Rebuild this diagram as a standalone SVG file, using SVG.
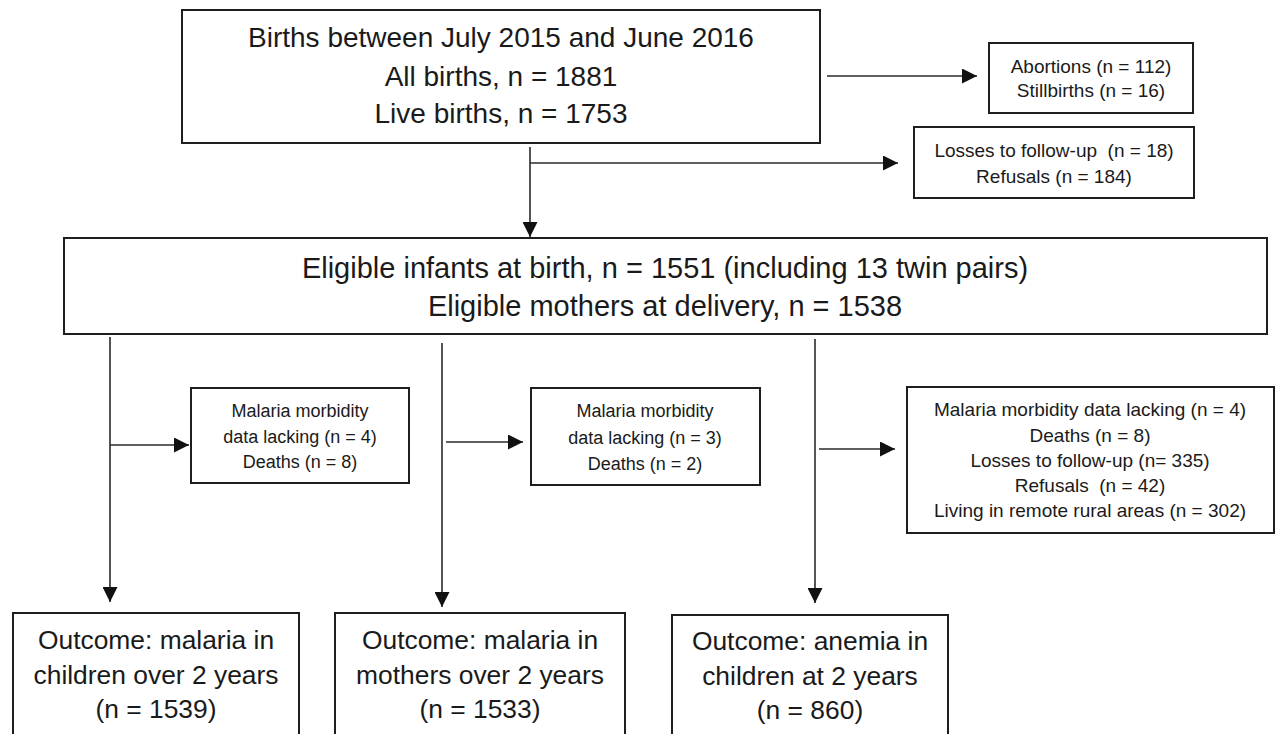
<svg xmlns="http://www.w3.org/2000/svg" width="1280" height="734" viewBox="0 0 1280 734">
  <style>
    .box { fill: #ffffff; stroke: #1e1e1e; stroke-width: 2; }
    .t { font-family: "Liberation Sans", Arial, sans-serif; fill: #1a1a1a; text-anchor: middle; }
    .big { font-size: 28px; }
    .mid { font-size: 29px; }
    .out { font-size: 26.4px; }
    .sm { font-size: 19px; }
    .xs { font-size: 18px; }
    .con { stroke: #2a2a2a; stroke-width: 1.6; fill: none; }
  </style>
  <defs>
    <marker id="arr" markerUnits="userSpaceOnUse" markerWidth="16" markerHeight="15" refX="15" refY="7.5" orient="auto">
      <path d="M0,0 L15,7.5 L0,15 Z" fill="#111"/>
    </marker>
  </defs>
  <rect width="1280" height="734" fill="#ffffff"/>

  <g id="connectors">
    <line class="con" x1="530" y1="147" x2="530" y2="237" marker-end="url(#arr)"/>
    <line class="con" x1="530" y1="163" x2="898" y2="163" marker-end="url(#arr)"/>
    <line class="con" x1="827" y1="76" x2="977" y2="76" marker-end="url(#arr)"/>
    <line class="con" x1="110" y1="337" x2="110" y2="602" marker-end="url(#arr)"/>
    <line class="con" x1="110" y1="445" x2="189" y2="445" marker-end="url(#arr)"/>
    <line class="con" x1="442" y1="343" x2="442" y2="607" marker-end="url(#arr)"/>
    <line class="con" x1="446" y1="442" x2="523" y2="442" marker-end="url(#arr)"/>
    <line class="con" x1="815" y1="339" x2="815" y2="603" marker-end="url(#arr)"/>
    <line class="con" x1="819" y1="449" x2="895" y2="449" marker-end="url(#arr)"/>
  </g>

  <g id="births">
    <rect class="box" x="182" y="10" width="638" height="133"/>
    <text class="t big" x="501" y="47">Births between July 2015 and June 2016</text>
    <text class="t big" x="501" y="86">All births, n = 1881</text>
    <text class="t big" x="501" y="123">Live births, n = 1753</text>
  </g>

  <g id="abortions">
    <rect class="box" x="989" y="43" width="204" height="70"/>
    <text class="t sm" x="1091" y="73">Abortions (n = 112)</text>
    <text class="t sm" x="1091" y="97">Stillbirths (n = 16)</text>
  </g>

  <g id="losses">
    <rect class="box" x="914" y="127" width="280" height="71"/>
    <text class="t sm" x="1054" y="157" xml:space="preserve">Losses to follow-up  (n = 18)</text>
    <text class="t sm" x="1054" y="183">Refusals (n = 184)</text>
  </g>

  <g id="eligible">
    <rect class="box" x="64" y="238" width="1203" height="96"/>
    <text class="t mid" x="665" y="278">Eligible infants at birth, n = 1551 (including 13 twin pairs)</text>
    <text class="t mid" x="665" y="316">Eligible mothers at delivery, n = 1538</text>
  </g>

  <g id="excl-children">
    <rect class="box" x="191" y="388" width="218" height="95"/>
    <text class="t xs" x="300" y="417">Malaria morbidity</text>
    <text class="t xs" x="300" y="443">data lacking (n = 4)</text>
    <text class="t xs" x="300" y="468">Deaths (n = 8)</text>
  </g>

  <g id="excl-mothers">
    <rect class="box" x="531" y="388" width="229" height="97"/>
    <text class="t xs" x="645" y="417">Malaria morbidity</text>
    <text class="t xs" x="645" y="444">data lacking (n = 3)</text>
    <text class="t xs" x="645" y="470">Deaths (n = 2)</text>
  </g>

  <g id="excl-anemia">
    <rect class="box" x="907" y="387" width="367" height="146"/>
    <text class="t sm" x="1090" y="416">Malaria morbidity data lacking (n = 4)</text>
    <text class="t sm" x="1090" y="442">Deaths (n = 8)</text>
    <text class="t sm" x="1090" y="467">Losses to follow-up (n= 335)</text>
    <text class="t sm" x="1090" y="492" xml:space="preserve">Refusals  (n = 42)</text>
    <text class="t sm" x="1090" y="517">Living in remote rural areas (n = 302)</text>
  </g>

  <g id="outcome-children">
    <rect class="box" x="13" y="613" width="286" height="150"/>
    <text class="t out" x="156" y="649">Outcome: malaria in</text>
    <text class="t out" x="156" y="684">children over 2 years</text>
    <text class="t out" x="156" y="718">(n = 1539)</text>
  </g>

  <g id="outcome-mothers">
    <rect class="box" x="335" y="613" width="290" height="150"/>
    <text class="t out" x="480" y="649">Outcome: malaria in</text>
    <text class="t out" x="480" y="684">mothers over 2 years</text>
    <text class="t out" x="480" y="718">(n = 1533)</text>
  </g>

  <g id="outcome-anemia">
    <rect class="box" x="672" y="615" width="276" height="150"/>
    <text class="t out" x="810" y="650">Outcome: anemia in</text>
    <text class="t out" x="810" y="685">children at 2 years</text>
    <text class="t out" x="810" y="719">(n = 860)</text>
  </g>
</svg>
